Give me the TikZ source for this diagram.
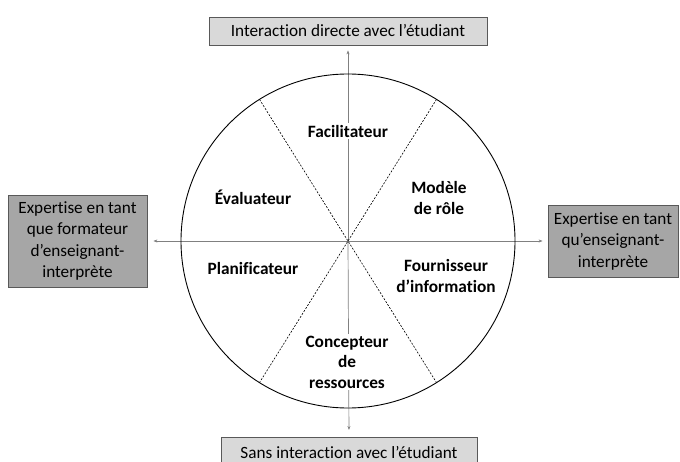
\documentclass[tikz,border=0pt]{standalone}
\usepackage{fontspec}
\setmainfont{Carlito}[Ligatures={NoCommon}]
\usetikzlibrary{arrows.meta}
\definecolor{lightbox}{HTML}{D9D9D9}
\definecolor{darkbox}{HTML}{A6A6A6}
\definecolor{boxline}{HTML}{595959}
\definecolor{axis}{HTML}{808080}
\begin{document}
\begin{tikzpicture}[x=1pt,y=-1pt,
  topbox/.style={draw=boxline,fill=lightbox,line width=0.8pt,font=\fontsize{17.2}{20}\selectfont,inner sep=0pt},
  sidebox/.style={draw=boxline,fill=darkbox,line width=0.8pt,font=\fontsize{17.2}{21.5}\selectfont,align=center,inner sep=0pt},
  role/.style={font=\bfseries\fontsize{17.3}{20.5}\selectfont,align=center,fill=white,inner sep=2pt},
  roleplain/.style={font=\bfseries\fontsize{17.3}{20.5}\selectfont,align=center,inner sep=2pt},
  axisarrow/.style={draw=axis,line width=0.7pt,-{Stealth[length=4pt,width=3pt]}},
  divider/.style={draw=black,line width=0.6pt,dash pattern=on 2pt off 1.5pt}]
\useasboundingbox (0,0) rectangle (680,462);
\coordinate (c) at (348,241);
% boxes
\node[topbox,minimum width=278pt,minimum height=28pt] (top) at (348,31) {Interaction directe avec l’étudiant};
\node[topbox,minimum width=256pt,minimum height=32pt,anchor=north] (bottom) at (349,437) {};
\node[font=\fontsize{17.2}{20}\selectfont] (bottomtext) at (349,452) {Sans interaction avec l’étudiant};
\node[sidebox,minimum width=139pt,minimum height=92pt] (left) at (77.5,241) {Expertise en tant\\que formateur\\d’enseignant-\\interprète};
\node[sidebox,minimum width=130pt,minimum height=72pt] (right) at (613,241) {Expertise en tant\\qu’enseignant-\\interprète};
% axes
\draw[axisarrow,shorten >=5pt] (c) -- (top.south);
\draw[axisarrow,shorten >=7pt] (c) -- (bottom.north);
\draw[axisarrow,shorten >=6pt] (c) -- (left.east);
\draw[axisarrow,shorten >=5pt] (c) -- (right.west);
% dividers
\coordinate (ul) at (259.5,99.4);
\coordinate (lr) at (436.5,382.6);
\coordinate (ur) at (436.5,99.4);
\coordinate (ll) at (259.5,382.6);
\draw[divider] (ul) -- (lr);
\draw[divider] (ur) -- (ll);
% circle
\draw[black,line width=0.9pt] (c) circle[radius=167];
% roles
\node[role] (fac) at (348,131) {Facilitateur};
\node[roleplain] (mod) at (439,198) {Modèle\\de rôle};
\node[roleplain] (eva) at (253,197) {Évaluateur};
\node[roleplain] (pla) at (253,268) {Planificateur};
\node[roleplain] (fou) at (446,276) {Fournisseur\\d’information};
\node[role] (con) at (347,362) {Concepteur\\de\\ressources};
\end{tikzpicture}
\end{document}
